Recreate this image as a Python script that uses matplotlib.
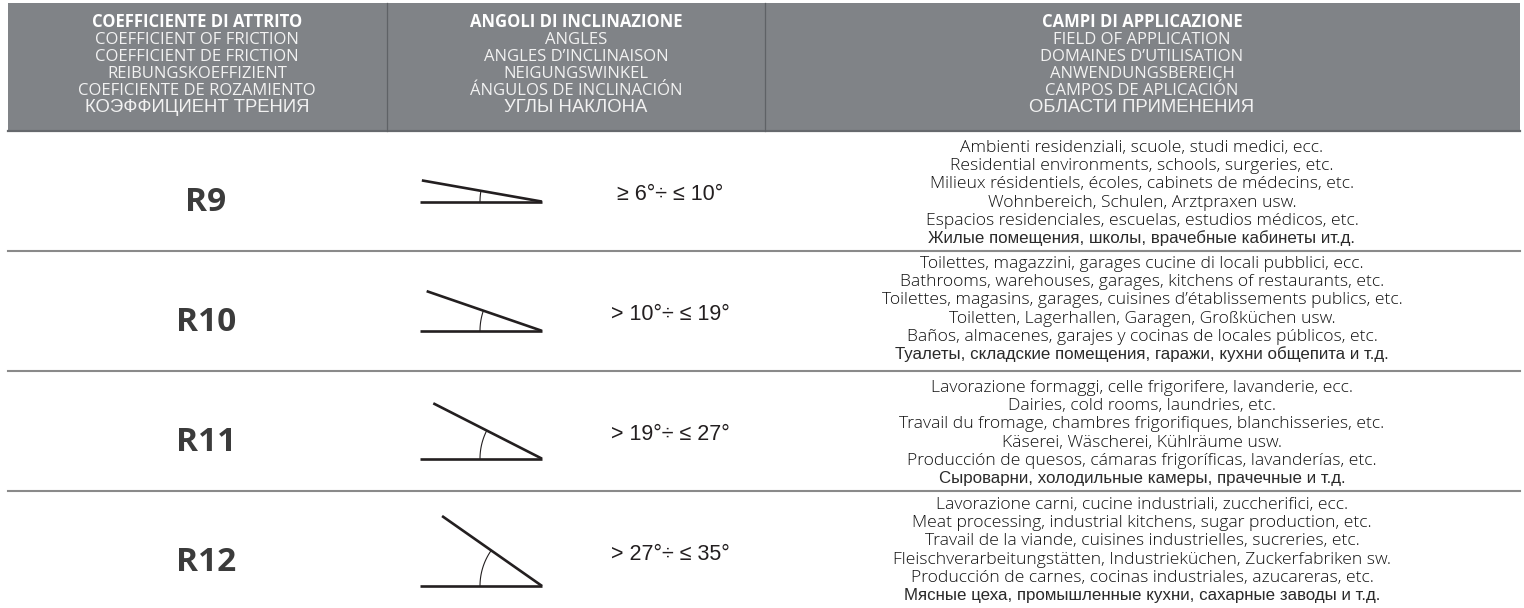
import numpy as np
import matplotlib
matplotlib.use("Agg")
import matplotlib.pyplot as plt
from matplotlib.patches import Rectangle

# ---------------- data ----------------
header_col1 = ["COEFFICIENTE DI ATTRITO", "COEFFICIENT OF FRICTION", "COEFFICIENT DE FRICTION",
               "REIBUNGSKOEFFIZIENT", "COEFICIENTE DE ROZAMIENTO", "КОЭФФИЦИЕНТ ТРЕНИЯ"]
header_col2 = ["ANGOLI DI INCLINAZIONE", "ANGLES", "ANGLES D’INCLINAISON",
               "NEIGUNGSWINKEL", "ÁNGULOS DE INCLINACIÓN", "УГЛЫ НАКЛОНА"]
header_col3 = ["CAMPI DI APPLICAZIONE", "FIELD OF APPLICATION", "DOMAINES D’UTILISATION",
               "ANWENDUNGSBEREICH", "CAMPOS DE APLICACIÓN", "ОБЛАСТИ ПРИМЕНЕНИЯ"]

classes = ["R9", "R10", "R11", "R12"]
angles_deg = [10, 19, 27, 35]
angle_labels = ["≥ 6°÷ ≤ 10°", "> 10°÷ ≤ 19°", "> 19°÷ ≤ 27°", "> 27°÷ ≤ 35°"]

app_r9 = ["Ambienti residenziali, scuole, studi medici, ecc.",
          "Residential environments, schools, surgeries, etc.",
          "Milieux résidentiels, écoles, cabinets de médecins, etc.",
          "Wohnbereich, Schulen, Arztpraxen usw.",
          "Espacios residenciales, escuelas, estudios médicos, etc.",
          "Жилые помещения, школы, врачебные кабинеты ит.д."]
app_r10 = ["Toilettes, magazzini, garages cucine di locali pubblici, ecc.",
           "Bathrooms, warehouses, garages, kitchens of restaurants, etc.",
           "Toilettes, magasins, garages, cuisines d’établissements publics, etc.",
           "Toiletten, Lagerhallen, Garagen, Großküchen usw.",
           "Baños, almacenes, garajes y cocinas de locales públicos, etc.",
           "Туалеты, складские помещения, гаражи, кухни общепита и т.д."]
app_r11 = ["Lavorazione formaggi, celle frigorifere, lavanderie, ecc.",
           "Dairies, cold rooms, laundries, etc.",
           "Travail du fromage, chambres frigorifiques, blanchisseries, etc.",
           "Käserei, Wäscherei, Kühlräume usw.",
           "Producción de quesos, cámaras frigoríficas, lavanderías, etc.",
           "Сыроварни, холодильные камеры, прачечные и т.д."]
app_r12 = ["Lavorazione carni, cucine industriali, zuccherifici, ecc.",
           "Meat processing, industrial kitchens, sugar production, etc.",
           "Travail de la viande, cuisines industrielles, sucreries, etc.",
           "Fleischverarbeitungstätten, Industrieküchen, Zuckerfabriken sw.",
           "Producción de carnes, cocinas industriales, azucareras, etc.",
           "Мясные цеха, промышленные кухни, сахарные заводы и т.д."]
applications = [app_r9, app_r10, app_r11, app_r12]

# ---------------- layout ----------------
W, H = 1524, 608
fig = plt.figure(figsize=(W / 100, H / 100), dpi=100)
ax = fig.add_axes([0, 0, 1, 1])
ax.set_xlim(0, W)
ax.set_ylim(H, 0)
ax.axis("off")

HDR_GRAY = "#808387"
LEFT, RIGHT = 8, 1520
HDR_TOP, HDR_BOT = 3, 131
COL_DIV = [387, 765]
COL_CENTERS = [197, 576, 1142]
ROW_H = 120
row_tops = [HDR_BOT + i * ROW_H for i in range(len(classes))]

LATIN = ["Open Sans", "DejaVu Sans"]
BODY = ["Open Sans", "DejaVu Sans"]
CYR = ["Liberation Sans", "DejaVu Sans"]

# header block
ax.add_patch(Rectangle((LEFT, HDR_TOP), RIGHT - LEFT, HDR_BOT - HDR_TOP,
                       facecolor=HDR_GRAY, edgecolor="none", zorder=1))
ax.plot([LEFT, RIGHT], [HDR_BOT, HDR_BOT], color="#66696d", lw=1.6, zorder=2)
for xd in COL_DIV:
    ax.plot([xd, xd], [HDR_TOP, HDR_BOT], color="#5f6266", lw=0.9, zorder=2)

for cx, lines in zip(COL_CENTERS, [header_col1, header_col2, header_col3]):
    for i, t in enumerate(lines):
        y = 27 + 17 * i
        if i == 0:
            ax.text(cx, y, t, ha="center", va="baseline", color="#ffffff",
                    fontsize=12, fontweight="bold", family=LATIN, zorder=3)
        elif i == len(lines) - 1:
            ax.text(cx, y, t, ha="center", va="baseline", color="#f2f2f2",
                    fontsize=13.3, family=CYR, zorder=3)
        else:
            ax.text(cx, y, t, ha="center", va="baseline", color="#f2f2f2",
                    fontsize=12, family=LATIN, zorder=3)

# row separators
for rt in row_tops[1:]:
    ax.plot([LEFT, RIGHT], [rt, rt], color="#8a8a8a", lw=1.5, zorder=2)

# rows
ICON_VX = 542
ICON_L = 122
ARC_R = 62
first_baseline = [152, 268, 392, 509]
LINE_SP = 18.2
for r, (cls, ang, alab, apps) in enumerate(zip(classes, angles_deg, angle_labels, applications)):
    top = row_tops[r]
    rc = top + ROW_H / 2
    # class label
    ax.text(206, top + 80, cls, ha="center", va="baseline", fontsize=24,
            fontweight="bold", color="#3b3b3b", family=LATIN)
    # angle icon
    th = np.deg2rad(ang)
    base = rc + ICON_L * np.sin(th) / 2
    ax.plot([ICON_VX - ICON_L, ICON_VX], [base, base], color="#231f20", lw=1.9,
            solid_capstyle="butt")
    ax.plot([ICON_VX - ICON_L * np.cos(th), ICON_VX], [base - ICON_L * np.sin(th), base],
            color="#231f20", lw=1.9, solid_capstyle="butt")
    phi = np.linspace(0, th, 30)
    ax.plot(ICON_VX - ARC_R * np.cos(phi), base - ARC_R * np.sin(phi),
            color="#231f20", lw=0.8)
    # angle range label
    ax.text(670, top + 69, alab, ha="center", va="baseline", fontsize=15.5,
            color="#231f20", family=["Liberation Sans", "DejaVu Sans"])
    # applications
    for i, t in enumerate(apps):
        y = first_baseline[r] + LINE_SP * i
        last = i == len(apps) - 1
        ax.text(1142, y, t, ha="center", va="baseline",
                fontsize=12.2 if last else 12.6,
                color="#2a2a2a" if last else "#111111",
                family=CYR if last else BODY,
                fontweight="normal" if last else "light")

fig.savefig("out.png", dpi=100)
